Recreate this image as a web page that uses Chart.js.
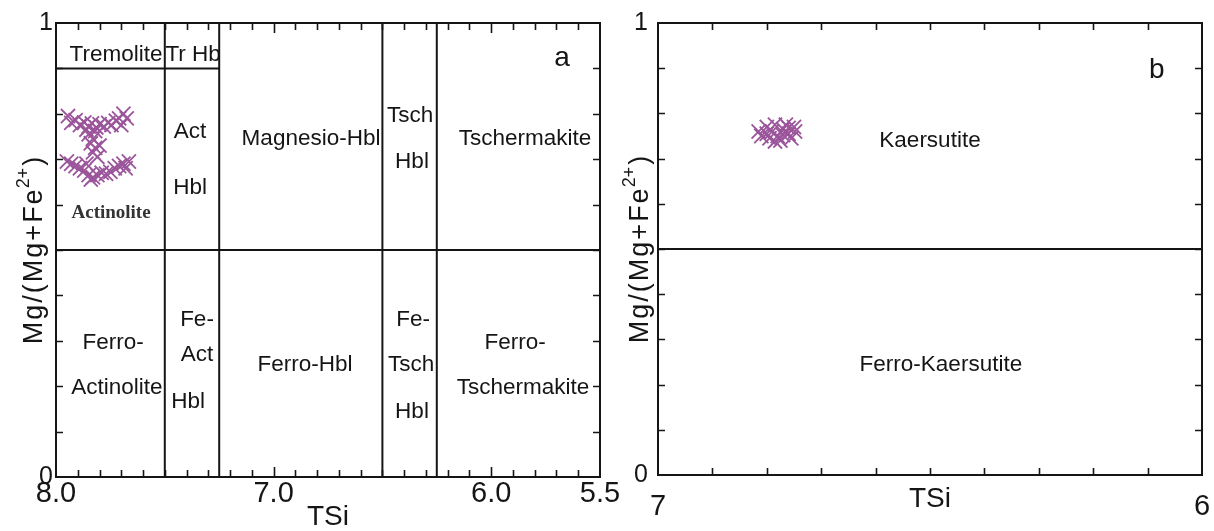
<!DOCTYPE html>
<html>
<head>
<meta charset="utf-8">
<script src="https://cdn.jsdelivr.net/npm/chart.js@4.4.1/dist/chart.umd.min.js"></script>
<style>
  html, body { margin: 0; padding: 0; background: #fff; }
  #wrapA { position: absolute; left: 0; top: 0; width: 630px; height: 531px; }
  #wrapB { position: absolute; left: 607px; top: 0; width: 607px; height: 531px; }
</style>
</head>
<body>
<div id="wrapA"><canvas id="chartA"></canvas></div>
<div id="wrapB"><canvas id="chartB"></canvas></div>
<script>
// amphibole analyses, panel a (TSi vs Mg/(Mg+Fe2+))
let tsiA = [7.945, 7.93, 7.91, 7.89, 7.87, 7.85, 7.835, 7.815, 7.80, 7.78, 7.76, 7.745, 7.725, 7.71, 7.69, 7.675, 7.70, 7.86, 7.82,
            7.85, 7.83, 7.84, 7.82, 7.83, 7.80, 7.81,
            7.95, 7.93, 7.91, 7.89, 7.87, 7.85, 7.83, 7.84, 7.81, 7.79, 7.77, 7.75, 7.73, 7.71, 7.69, 7.665, 7.68, 7.86]
let mgA = [0.795, 0.780, 0.786, 0.775, 0.781, 0.772, 0.779, 0.770, 0.777, 0.772, 0.780, 0.775, 0.785, 0.790, 0.800, 0.790, 0.775, 0.765, 0.762,
           0.755, 0.745, 0.735, 0.725, 0.715, 0.730, 0.705,
           0.695, 0.690, 0.685, 0.680, 0.675, 0.665, 0.660, 0.655, 0.665, 0.670, 0.668, 0.672, 0.680, 0.685, 0.690, 0.695, 0.680, 0.690]

// panel b
let tsiB = [6.815, 6.81, 6.80, 6.795, 6.79, 6.785, 6.78, 6.775, 6.77, 6.765, 6.76, 6.755, 6.75, 6.748, 6.785, 6.80, 6.77, 6.76]
let mgB = [0.760, 0.750, 0.770, 0.745, 0.760, 0.775, 0.750, 0.740, 0.765, 0.775, 0.755, 0.745, 0.770, 0.760, 0.738, 0.755, 0.752, 0.768]

// field boundaries
let splitTSi = [7.5, 7.25, 6.5, 6.25]
let splitMg = 0.5
let tremoliteMg = 0.9
let tremoliteTSi = [8.0, 7.25]

// tick labels
let ticksA = [8.0, 7.0, 6.0, 5.5]
let ticksB = [7, 6]
let ticksY = [0, 1]

// field names and where they sit (last one is the bold serif "Actinolite")
let namesA = ['Tremolite', 'Tr Hb', 'Act', 'Hbl', 'Magnesio-Hbl', 'Tsch', 'Hbl', 'Tschermakite',
              'Ferro-', 'Actinolite', 'Fe-', 'Act', 'Hbl', 'Ferro-Hbl', 'Fe-', 'Tsch', 'Hbl', 'Ferro-', 'Tschermakite',
              'Actinolite']
let namesTSiA = [7.724, 7.37, 7.384, 7.384, 6.828, 6.373, 6.364, 5.845,
                 7.738, 7.72, 7.352, 7.352, 7.393, 6.856, 6.359, 6.368, 6.364, 5.89, 5.854,
                 7.747]
let namesMgA = [0.93, 0.93, 0.76, 0.637, 0.745, 0.795, 0.694, 0.745,
                0.295, 0.196, 0.346, 0.269, 0.165, 0.247, 0.346, 0.247, 0.143, 0.295, 0.196,
                0.582]
let namesB = ['Kaersutite', 'Ferro-Kaersutite']
let namesTSiB = [6.5, 6.48]
let namesMgB = [0.74, 0.243]

let markColor = '#9b559b'
let ink = '#151515'
let sans = "'Liberation Sans', Arial, sans-serif"

Chart.defaults.font.family = sans
Chart.defaults.color = ink

function tenths(a, b) {
  let out = []
  for (let i = Math.round(a * 10); i <= Math.round(b * 10); i++) out.push(i / 10)
  return out
}

const overlay = {
  id: 'overlay',
  afterDatasetsDraw(chart, args, o) {
    const ctx = chart.ctx, a = chart.chartArea, x = chart.scales.x, y = chart.scales.y
    ctx.save()
    ctx.strokeStyle = ink
    ctx.lineWidth = 2
    ctx.strokeRect(a.left, a.top, a.right - a.left, a.bottom - a.top)
    ctx.lineWidth = 1.6
    ctx.beginPath()
    o.xTicks.forEach(v => {
      let px = Math.round(x.getPixelForValue(v)) + 0.5
      let len = o.xMajor.some(m => Math.abs(m - v) < 1e-6) ? 10 : 7
      ctx.moveTo(px, a.bottom); ctx.lineTo(px, a.bottom - len)
      ctx.moveTo(px, a.top); ctx.lineTo(px, a.top + len)
    })
    o.yTicks.forEach(v => {
      let py = Math.round(y.getPixelForValue(v)) + 0.5
      ctx.moveTo(a.left, py); ctx.lineTo(a.left + 7, py)
      ctx.moveTo(a.right, py); ctx.lineTo(a.right - 7, py)
    })
    ctx.stroke()

    // field names
    ctx.textAlign = 'center'
    ctx.textBaseline = 'middle'
    o.names.forEach((n, i) => {
      let serif = o.serif === i
      ctx.font = serif ? "bold 19px 'Liberation Serif', 'Times New Roman', serif" : '22.5px ' + sans
      ctx.fillStyle = serif ? '#333' : ink
      ctx.fillText(n, x.getPixelForValue(o.nx[i]), y.getPixelForValue(o.ny[i]))
    })
    ctx.fillStyle = ink
    ctx.font = '28px ' + sans
    ctx.fillText(o.tag, x.getPixelForValue(o.tagX), y.getPixelForValue(o.tagY))

    // y title with superscript
    ctx.translate(o.titleX, (a.top + a.bottom) / 2)
    ctx.rotate(-Math.PI / 2)
    ctx.textAlign = 'left'
    ctx.textBaseline = 'alphabetic'
    ctx.letterSpacing = '2px'
    ctx.font = '27px ' + sans
    let w1 = ctx.measureText('Mg/(Mg+Fe').width
    let w3 = ctx.measureText(')').width
    ctx.letterSpacing = '0px'
    ctx.font = '18px ' + sans
    let w2 = ctx.measureText('2+').width
    let s = -(w1 + w2 + w3) / 2
    ctx.letterSpacing = '2px'
    ctx.font = '27px ' + sans
    ctx.fillText('Mg/(Mg+Fe', s, 0)
    ctx.fillText(')', s + w1 + w2 + 1, 0)
    ctx.letterSpacing = '0px'
    ctx.font = '18px ' + sans
    ctx.fillText('2+', s + w1 - 1, -13)
    ctx.restore()
  }
}

function line(pts) {
  return { data: pts, showLine: true, borderColor: ink, borderWidth: 2, pointRadius: 0, fill: false }
}

function crosses(xs, ys) {
  return {
    data: xs.map((v, i) => ({ x: v, y: ys[i] })),
    pointStyle: 'crossRot', pointRadius: 10, borderColor: markColor, borderWidth: 1.8, showLine: false
  }
}

function makeChart(id, cfg) {
  return new Chart(document.getElementById(id), {
    type: 'scatter',
    data: { datasets: cfg.datasets },
    options: {
      animation: false,
      responsive: true,
      maintainAspectRatio: false,
      layout: { padding: { left: 0, top: 23, right: cfg.padRight, bottom: 0 } },
      plugins: { legend: { display: false }, tooltip: { enabled: false }, overlay: cfg.overlay },
      scales: {
        x: {
          type: 'linear', reverse: true, min: cfg.xMin, max: cfg.xMax,
          grid: { display: false, drawTicks: false }, border: { display: false },
          afterBuildTicks: s => { s.ticks = cfg.xLabels.map(v => ({ value: v })) },
          afterFit: s => { s.height = cfg.xHeight; s.paddingLeft = 0; s.paddingRight = 0 },
          ticks: { font: { size: 29 }, color: ink, padding: cfg.xPad, maxRotation: 0, autoSkip: false,
                   callback: v => cfg.xFmt(v) },
          title: { display: true, text: 'TSi', font: { size: 28, lineHeight: 1 }, color: ink,
                   padding: { top: 0, bottom: cfg.titlePad } }
        },
        y: {
          type: 'linear', min: 0, max: 1,
          grid: { display: false, drawTicks: false }, border: { display: false },
          afterBuildTicks: s => { s.ticks = ticksY.map(v => ({ value: v })) },
          afterFit: s => { s.width = cfg.yWidth; s.paddingTop = 0; s.paddingBottom = 0 },
          ticks: { font: { size: 25 }, color: ink, padding: cfg.yPad, callback: v => String(v) }
        }
      }
    },
    plugins: [overlay]
  })
}

let dsA = [
  line([{ x: tremoliteTSi[0], y: tremoliteMg }, { x: tremoliteTSi[1], y: tremoliteMg }]),
  line([{ x: 8.0, y: splitMg }, { x: 5.5, y: splitMg }])
]
splitTSi.forEach(t => dsA.push(line([{ x: t, y: 0 }, { x: t, y: 1 }])))
dsA.push(crosses(tsiA, mgA))

makeChart('chartA', {
  datasets: dsA, padRight: 30, xMin: 5.5, xMax: 8.0, xLabels: ticksA, xFmt: v => v.toFixed(1),
  xHeight: 54, xPad: 0, titlePad: 0, yWidth: 56, yPad: 3,
  overlay: {
    xTicks: tenths(5.6, 7.9), xMajor: [7.0, 6.0], yTicks: tenths(0.1, 0.9),
    names: namesA, nx: namesTSiA, ny: namesMgA, serif: 19,
    tag: 'a', tagX: 5.675, tagY: 0.923, titleX: 42
  }
})

let dsB = [line([{ x: 7, y: splitMg }, { x: 6, y: splitMg }]), crosses(tsiB, mgB)]

makeChart('chartB', {
  datasets: dsB, padRight: 12, xMin: 6, xMax: 7, xLabels: ticksB, xFmt: v => String(Math.round(v)),
  xHeight: 56, xPad: 15, titlePad: 18, yWidth: 51, yPad: 10,
  overlay: {
    xTicks: tenths(6.1, 6.9), xMajor: [], yTicks: tenths(0.1, 0.9),
    names: namesB, nx: namesTSiB, ny: namesMgB, serif: -1,
    tag: 'b', tagX: 6.083, tagY: 0.896, titleX: 41
  }
})
</script>
</body>
</html>
